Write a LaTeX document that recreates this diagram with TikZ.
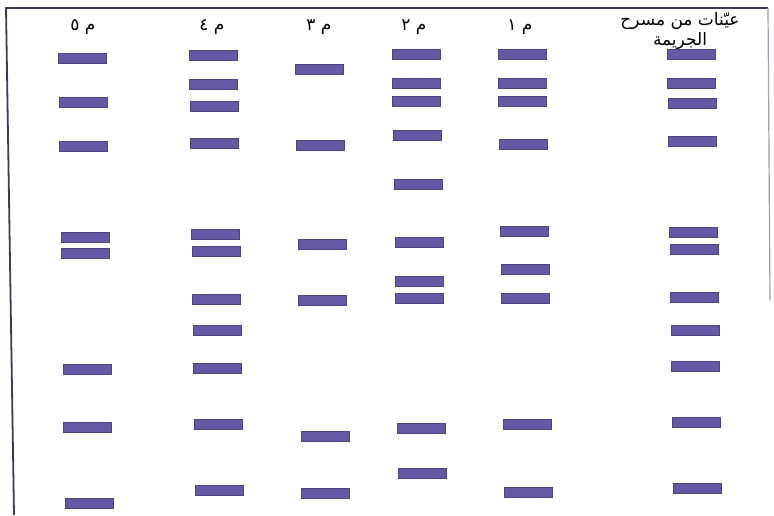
\documentclass[tikz,border=0pt]{standalone}
\usepackage{fontspec}
\usepackage{tikz}
\usetikzlibrary{positioning,calc}
\TeXXeTstate=1
\newfontfamily\arabicfont[Script=Arabic]{DejaVu Sans}
\definecolor{gelBand}{RGB}{100,90,166}
\definecolor{gelFrame}{RGB}{60,60,90}
\tikzset{
    gelBand/.style={
        rectangle,
        draw=gelBand!75!black,
        fill=gelBand,
        line width=0.4pt,
        minimum width=48pt,
        minimum height=9.5pt,
        inner sep=0pt
    },
    laneLabel/.style={
        font=\arabicfont\fontsize{17}{20}\selectfont,
        inner sep=1pt,
        align=center
    },
    gelEdge/.style={draw=gelFrame, line width=1.8pt}
}
\begin{document}
\begin{tikzpicture}[x=1pt, y=-1pt]
\useasboundingbox (0,0) rectangle (774,515);
% frame of the gel
\coordinate (tl) at (6,8);
\coordinate (tr) at (768,8);
\coordinate (bl) at (14,515);
\coordinate (br) at (770,300);
\draw[gelEdge] (bl) -- (tl) -- (tr);
\draw[gelEdge, draw=gelFrame!50, line width=1.2pt] (tr) -- (br);
% lane labels
\node[laneLabel] (lab5) at (83,27) {\beginR م ٥\endR};
\node[laneLabel] (lab4) at (212,27) {\beginR م ٤\endR};
\node[laneLabel] (lab3) at (319,27) {\beginR م ٣\endR};
\node[laneLabel] (lab2) at (414,27) {\beginR م ٢\endR};
\node[laneLabel] (lab1) at (520,27) {\beginR م ١\endR};
\node[laneLabel] (labC) at (680,31) {\beginR عيّنات من مسرح\endR\\\beginR الجريمة\endR};
% bands (lane x, band y positions)
\foreach \lane/\lx/\ys in {
    five/82/{58,102,146,237,253,369,427,503},
    four/213/{55,84,106,143,234,251,299,330,368,424,490},
    three/319/{69,145,244,300,436,493},
    two/416/{54,83,101,135,184,242,281,298,428,473},
    one/522/{54,83,101,144,231,269,298,424,492},
    crime/691/{54,83,103,141,232,249,297,330,366,422,488}}{
    \foreach \y [count=\i] in \ys {
        \pgfmathsetmacro{\bx}{\lx+0.015*(\y-55)}
        \node[gelBand] (band-\lane-\i) at (\bx,\y) {};
    }
}
\end{tikzpicture}
\end{document}
